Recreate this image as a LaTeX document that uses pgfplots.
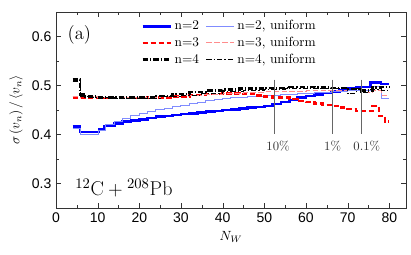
\documentclass[border=0pt]{standalone}
\usepackage{pgfplots}
\pgfplotsset{compat=1.18}
\usepackage{fontspec}
\setsansfont{Liberation Sans}
\definecolor{lblue}{rgb}{0.5,0.55,1}
\definecolor{lred}{rgb}{1,0.55,0.55}
\begin{document}
\begin{tikzpicture}
\begin{axis}[
  scale only axis, width=262.5pt, height=147pt,
  xmin=0, xmax=84, ymin=0.25, ymax=0.65,
  xtick={0,10,...,80}, minor x tick num=1,
  ytick={0.3,0.4,0.5,0.6}, minor y tick num=1,
  tick label style={font=\sffamily\fontsize{10.5}{12}\selectfont},
  /pgf/number format/assume math mode=true,
  yticklabel style={/pgf/number format/fixed,/pgf/number format/precision=1,/pgf/number format/fixed zerofill},
  xlabel={$N_W$}, ylabel={$\sigma\left(v_n\right)/\left\langle v_n\right\rangle$},
  label style={font=\fontsize{10}{12}\selectfont},
  axis line style={black!80}, tick style={black!80},
  major tick length=3.5pt, minor tick length=2.5pt,
  legend columns=2,
  legend style={draw=none, fill=none, at={(rel axis cs:0.232,0.985)}, anchor=north west,
    font=\fontsize{10}{12}\selectfont, row sep=0pt,
    /tikz/every even column/.append style={column sep=3pt}},
  legend image code/.code={\draw[#1] (0pt,0pt) -- (21pt,0pt);},
  const plot,
]
% n=2
\addplot[blue, line width=1.9pt] coordinates {
(4,0.416) (5.8,0.405) (10.3,0.410) (11.7,0.417) (14,0.422) (16,0.426) (18,0.429) (20,0.431)
(22,0.434) (24,0.437) (26,0.438) (28,0.440) (30,0.442) (32,0.443) (34,0.445) (36,0.447)
(38,0.448) (40,0.450) (42,0.451) (44,0.453) (46,0.455) (48,0.456) (50,0.458) (52,0.462)
(54,0.466) (56,0.470) (58,0.475) (60,0.479) (62,0.482) (64,0.485) (66,0.488) (68,0.491)
(70,0.494) (72,0.497) (75.5,0.506) (78,0.503) (80,0.503)};
\addlegendentry{n=2}
% n=2 uniform
\addplot[lblue, line width=0.75pt] coordinates {
(4,0.412) (5.8,0.400) (10.3,0.408) (12,0.420) (14,0.427) (16,0.433) (18,0.438) (20,0.442)
(22,0.446) (24,0.450) (26,0.453) (28,0.457) (30,0.460) (32,0.463) (34,0.466) (36,0.469)
(38,0.471) (40,0.473) (42,0.475) (44,0.476) (46,0.477) (48,0.478) (50,0.479) (52,0.480)
(54,0.481) (56,0.482) (58,0.483) (60,0.484) (62,0.485) (64,0.486) (66,0.487) (68,0.488)
(70,0.489) (72,0.490) (74,0.490) (76,0.497) (78,0.474) (80,0.474)};
\addlegendentry{n=2, uniform}
% n=3
\addplot[red, line width=1.9pt, dash pattern=on 4pt off 2pt] coordinates {
(4,0.475) (6,0.476) (8,0.475) (10,0.474) (14,0.474) (18,0.474) (22,0.475) (24,0.476)
(28,0.478) (32,0.481) (36,0.483) (40,0.484) (44,0.483) (48,0.480) (50,0.477) (52,0.475)
(56,0.472) (58,0.468) (60,0.466) (62,0.463) (64,0.460) (66,0.458) (68,0.455) (70,0.452)
(72,0.448) (74,0.448) (76,0.458) (77.5,0.438) (79,0.426) (80,0.426)};
\addlegendentry{n=3}
% n=3 uniform
\addplot[lred, line width=0.75pt, dash pattern=on 4pt off 2pt] coordinates {
(4,0.477) (6,0.478) (10,0.476) (15,0.476) (20,0.476) (25,0.478) (30,0.480) (35,0.482)
(40,0.484) (45,0.486) (50,0.487) (55,0.488) (60,0.489) (65,0.490) (70,0.491) (74,0.485)
(76,0.490) (78,0.480) (80,0.480)};
\addlegendentry{n=3, uniform}
% n=4
\addplot[black, line width=1.9pt, dash pattern=on 4pt off 1.5pt on 1pt off 1.5pt] coordinates {
(4,0.512) (5.8,0.482) (7,0.477) (10,0.476) (14,0.475) (20,0.476) (24,0.479) (28,0.483)
(32,0.487) (36,0.490) (40,0.492) (44,0.494) (50,0.495) (56,0.497) (62,0.496) (66,0.495)
(70,0.493) (73,0.490) (76,0.496) (78,0.497) (80,0.497)};
\addlegendentry{n=4}
% n=4 uniform
\addplot[black, line width=0.75pt, dash pattern=on 4pt off 1.5pt on 1pt off 1.5pt] coordinates {
(4,0.508) (5.8,0.478) (8,0.475) (14,0.474) (20,0.474) (25,0.477) (30,0.480) (35,0.484)
(40,0.488) (45,0.490) (50,0.492) (55,0.493) (60,0.494) (68,0.494) (70,0.483) (72,0.493)
(73,0.485) (75,0.492) (78,0.490) (80,0.490)};
\addlegendentry{n=4, uniform}
% centrality markers
\addplot[black!60, line width=0.6pt, sharp plot, forget plot] coordinates {(52.4,0.512) (52.4,0.40)};
\addplot[black!60, line width=0.6pt, sharp plot, forget plot] coordinates {(66.3,0.512) (66.3,0.40)};
\addplot[black!60, line width=0.6pt, sharp plot, forget plot] coordinates {(73.2,0.512) (73.2,0.40)};
\node[font=\fontsize{9.5}{11}\selectfont, text=black!80] at (axis cs:53.3,0.376) {10\%};
\node[font=\fontsize{9.5}{11}\selectfont, text=black!80] at (axis cs:66.4,0.376) {1\%};
\node[font=\fontsize{9.5}{11}\selectfont, text=black!80] at (axis cs:74.6,0.376) {0.1\%};
\node[font=\fontsize{14}{16}\selectfont] at (axis cs:5.6,0.603) {(a)};
\node[font=\fontsize{15}{18}\selectfont] at (axis cs:16.3,0.291) {$^{12}\mathrm{C}+{}^{208}\mathrm{Pb}$};
\end{axis}
\pgfresetboundingbox
\path ([shift={(-42pt,-35.25pt)}]current axis.south west) rectangle ([shift={(3.75pt,9pt)}]current axis.north east);
\end{tikzpicture}
\end{document}
